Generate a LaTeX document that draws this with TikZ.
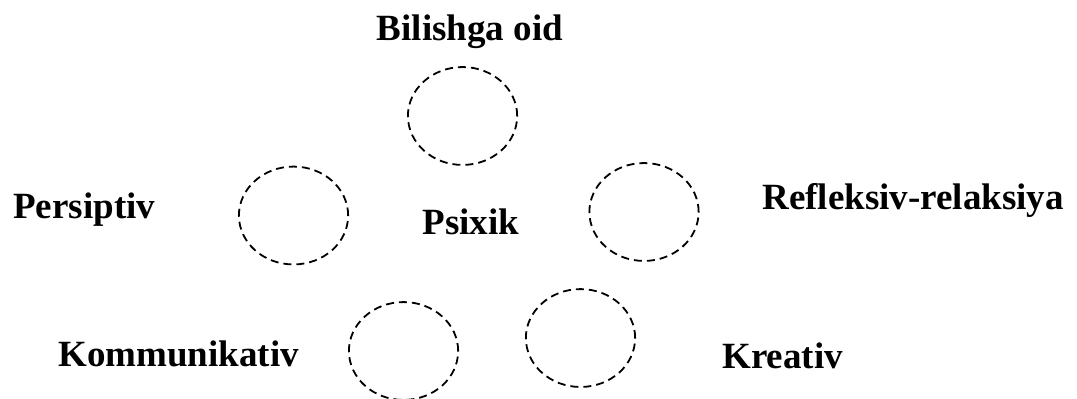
\documentclass[tikz,border=0pt]{standalone}
\usepackage{fontspec}
\setmainfont{Liberation Serif}
\usetikzlibrary{shapes.geometric}

\begin{document}
\begin{tikzpicture}[
        ring/.style={draw=black, ellipse, line width=0.9pt, dash pattern=on 4pt off 2.5pt,
                     minimum width=1.92cm, minimum height=1.72cm, inner sep=0pt},
        label/.style={inner sep=0pt, font=\fontsize{18.5}{22}\selectfont\bfseries}
      ]
        \useasboundingbox (0,0) rectangle (18.926,6.994);

        \node[ring] (bilish)  at (8.128,4.956) {};
        \node[ring] (persip)  at (5.158,3.207) {};
        \node[ring] (reflex)  at (11.317,3.269) {};
        \node[ring] (kommun)  at (7.091,0.826) {};
        \node[ring] (kreat)   at (10.201,1.054) {};

        \node[label, anchor=base]      (tbilish) at (8.259,6.291)  {Bilishga oid};
        \node[label, anchor=base west] (tpersip) at (0.228,3.146)  {Persiptiv};
        \node[label, anchor=base]      (tpsix)   at (8.277,2.882)  {Psixik};
        \node[label, anchor=base west] (treflex) at (13.391,3.321) {Refleksiv-relaksiya};
        \node[label, anchor=base west] (tkommun) at (1.019,0.545)  {Kommunikativ};
        \node[label, anchor=base west] (tkreat)  at (12.688,0.510) {Kreativ};
      \end{tikzpicture}
\end{document}
